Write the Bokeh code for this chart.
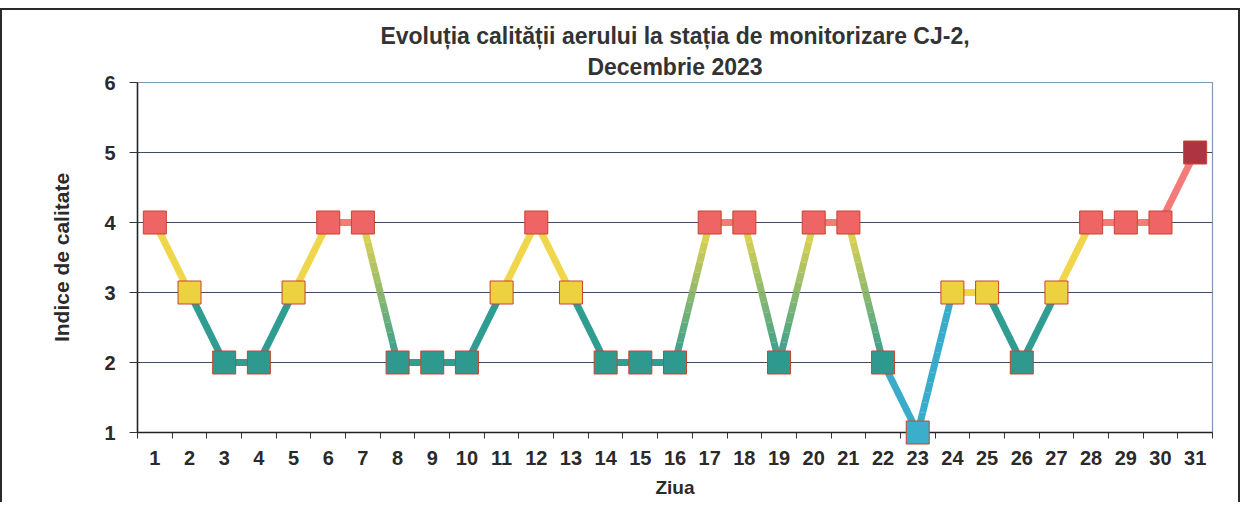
from bokeh.plotting import figure
from bokeh.models import Range1d, FixedTicker, ColumnDataSource, Title
from bokeh.embed import file_html
from bokeh.resources import INLINE

# ---- data ----
days = list(range(1, 32))
index_values = [4, 3, 2, 2, 3, 4, 4, 2, 2, 2, 3, 4, 3, 2, 2, 2, 4, 4, 2, 4, 4, 2, 1, 3, 3, 2, 3, 4, 4, 4, 5]
y_ticks = [1, 2, 3, 4, 5, 6]
x_labels = [str(d) for d in days]

title_line1 = "Evoluția calității aerului la stația de monitorizare CJ-2,"
title_line2 = "Decembrie 2023"
x_title = "Ziua"
y_title = "Indice de calitate"

# ---- styles ----
level_fill = {1: "#3aaecb", 2: "#2e9a8f", 3: "#ecd23e", 4: "#ef6464", 5: "#ad3440"}
level_line = {1: "#3aaccb", 2: "#2f9d92", 3: "#efd64a", 4: "#f57b7b", 5: "#f57b7b"}
FONT = "Liberation Sans"


def hex_to_rgb(h):
    h = h.lstrip("#")
    return tuple(int(h[i:i + 2], 16) for i in (0, 2, 4))


def mix(c1, c2, t):
    a, b = hex_to_rgb(c1), hex_to_rgb(c2)
    return "#%02x%02x%02x" % tuple(round(a[k] + (b[k] - a[k]) * t) for k in range(3))


# line pieces (colour gradient along segments that span two levels)
x0s, y0s, x1s, y1s, seg_colors = [], [], [], [], []
for i in range(len(days) - 1):
    xa, xb = days[i], days[i + 1]
    ya, yb = index_values[i], index_values[i + 1]
    lo, hi = min(ya, yb), max(ya, yb)
    pieces = 1 if hi - lo <= 1 else 14
    if hi == lo or lo == 1:
        top_c = bot_c = level_line[lo]
    else:
        top_c, bot_c = level_line[hi - 1], level_line[lo]
    for k in range(pieces):
        t0, t1 = k / pieces, (k + 1) / pieces
        xs0 = xa + (xb - xa) * t0
        xs1 = xa + (xb - xa) * t1
        ys0 = ya + (yb - ya) * t0
        ys1 = ya + (yb - ya) * t1
        ym = (ys0 + ys1) / 2
        tt = 0.0 if hi == lo else (hi - ym) / (hi - lo)
        x0s.append(xs0); y0s.append(ys0); x1s.append(xs1); y1s.append(ys1)
        seg_colors.append(mix(top_c, bot_c, tt))

seg_src = ColumnDataSource(dict(x0=x0s, y0=y0s, x1=x1s, y1=y1s, c=seg_colors))
pt_src = ColumnDataSource(dict(x=days, y=index_values,
                               c=[level_fill[v] for v in index_values]))

p = figure(width=1240, height=494,
           x_range=Range1d(0.5, 31.5), y_range=Range1d(1, 6),
           output_backend="svg", toolbar_location=None,
           min_border_left=135, min_border_right=30,
           min_border_top=72, min_border_bottom=72)

p.styles = {"border-top": "2px solid #2a2a2a", "border-left": "2px solid #2a2a2a",
            "border-right": "2px solid #2a2a2a", "margin-top": "8px"}

p.title.text = ""
for txt, so, lh in ((title_line2, 6, 1.0), (title_line1, 0, 0.85)):
    p.add_layout(Title(text=txt, align="center", text_font=FONT, text_font_size="23px",
                       text_font_style="bold", text_color="#333333", standoff=so,
                       text_line_height=lh), "above")

p.outline_line_color = "#7d9ab5"
p.outline_line_width = 1.2

# axes
p.xaxis.ticker = FixedTicker(ticks=days, minor_ticks=[d - 0.5 for d in days] + [31.5])
p.xaxis.major_label_overrides = {d: lab for d, lab in zip(days, x_labels)}
p.xaxis.minor_tick_in = 0
p.xaxis.minor_tick_out = 6
p.xaxis.minor_tick_line_color = "#333333"
p.xaxis.minor_tick_line_width = 1
p.xaxis.major_label_standoff = 12
p.xaxis.axis_label = x_title
p.xaxis.axis_label_standoff = 9

p.yaxis.ticker = FixedTicker(ticks=y_ticks)
p.yaxis.major_tick_in = 0
p.yaxis.major_tick_out = 8
p.yaxis.minor_tick_line_color = None
p.yaxis.major_label_standoff = 14
p.yaxis.axis_label = y_title
p.yaxis.axis_label_standoff = 28

for ax in (p.xaxis, p.yaxis):
    ax.axis_line_color = "#222222"
    ax.axis_line_width = 1.5
    ax.major_label_text_font = FONT
    ax.major_label_text_font_size = "20px"
    ax.major_label_text_font_style = "bold"
    ax.major_label_text_color = "#2a2a2a"
    ax.axis_label_text_font = FONT
    ax.axis_label_text_font_style = "bold"
    ax.axis_label_text_color = "#2a2a2a"
p.xaxis.major_tick_line_color = None
p.yaxis.major_tick_line_color = "#333333"
p.xaxis.axis_label_text_font_size = "19px"
p.yaxis.axis_label_text_font_size = "21px"

p.xgrid.grid_line_color = None
p.ygrid.ticker = FixedTicker(ticks=y_ticks)
p.ygrid.grid_line_color = "#3a4d63"
p.ygrid.grid_line_width = 1.2

p.segment(x0="x0", y0="y0", x1="x1", y1="y1", source=seg_src,
          line_color="c", line_width=7)
p.scatter(x="x", y="y", source=pt_src, marker="square", size=23,
          fill_color="c", line_color="#c8442f", line_width=1, level="overlay")

open("out.html", "w").write(file_html(p, INLINE))
